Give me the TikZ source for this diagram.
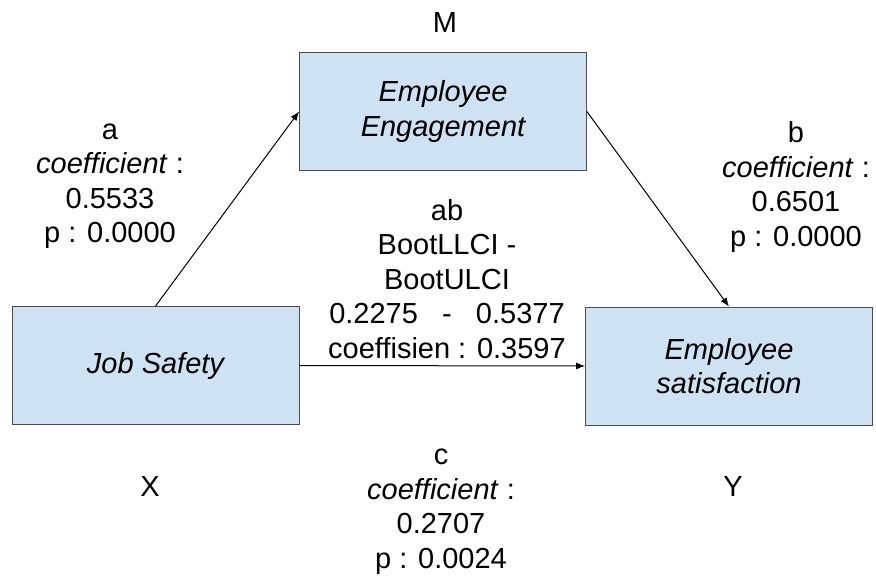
\documentclass[tikz,border=0pt]{standalone}
\usepackage{fontspec}
\setmainfont{Liberation Sans}
\usepackage{xcolor}
\usetikzlibrary{arrows.meta, positioning}
\definecolor{boxblue}{HTML}{CFE2F3}
\newcommand{\diagfont}{\fontsize{14.5}{17.25}\selectfont}

\begin{document}
\begin{tikzpicture}[
        x=0.5pt, y=-0.5pt,
        font=\diagfont,
        box/.style={draw=black!70, fill=boxblue, minimum width=143.5pt, minimum height=59pt, inner sep=0pt, align=center, font=\diagfont\itshape},
        lbl/.style={align=center},
        link/.style={-{Latex[length=4.5pt,width=3.5pt]}, line width=0.5pt}
      ]
      \useasboundingbox (0,0) rectangle (876,578);

      % Variables
      \node[box] (safety) at (155.5,365.5) {Job Safety};
      \node[box] (engagement) at (443,111.5) {Employee\\Engagement};
      \node[box] (satisfaction) at (729,366) {Employee\\satisfaction};

      \node (nameM) at (445,23) {M};
      \node (nameX) at (150,487) {X};
      \node (nameY) at (733,487) {Y};

      % Paths
      \draw[link] (safety.north) -- (engagement.west);
      \draw[link] (engagement.east) -- (satisfaction.north);
      \draw[link] (safety.east) -- (satisfaction.west);

      % Path coefficients
      \node[lbl] (labA) at (110,186) {a\\\textit{coefficient} :\\0.5533\\p : 0.0000};
      \node[lbl] (labB) at (796,187) {b\\\textit{coefficient} :\\0.6501\\p : 0.0000};
      \node[lbl] (labAB) at (447,279) {ab\\BootLLCI -\\BootULCI\\0.2275~~~-~~~0.5377\\coeffisien : 0.3597};
      \node[lbl] (labC) at (441,511.5) {c\\\textit{coefficient} :\\0.2707\\p : 0.0024};
  \end{tikzpicture}
\end{document}
